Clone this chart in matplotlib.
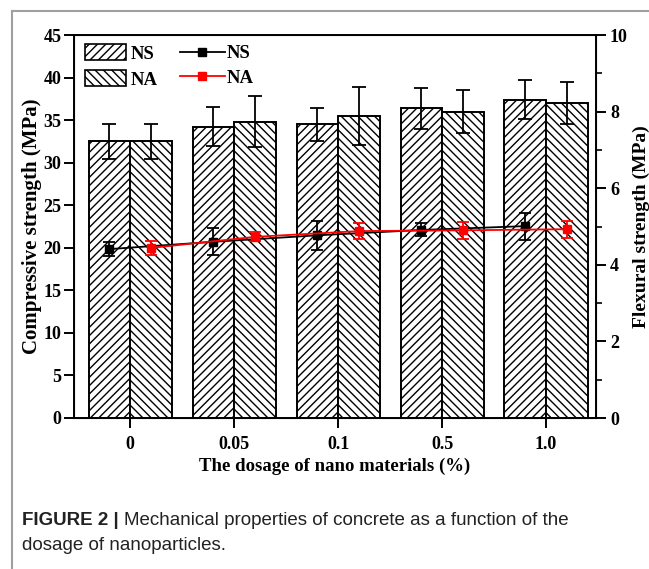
import matplotlib
matplotlib.use("Agg")
import matplotlib.pyplot as plt
import numpy as np
from matplotlib.patches import Patch
from matplotlib.lines import Line2D
from matplotlib.ticker import MultipleLocator

# ── data ──────────────────────────────────────────────────────────────────────
dosage = ["0", "0.05", "0.1", "0.5", "1.0"]

# compressive strength (MPa), bars
ns_comp     = [32.5, 34.2, 34.5, 36.4, 37.4]
ns_comp_err = [2.1, 2.3, 1.9, 2.4, 2.3]
na_comp     = [32.5, 34.8, 35.5, 36.0, 37.0]
na_comp_err = [2.1, 3.0, 3.4, 2.5, 2.5]

# flexural strength (MPa), lines
ns_flex     = [4.41, 4.60, 4.77, 4.91, 5.01]
ns_flex_err = [0.18, 0.35, 0.38, 0.17, 0.35]
na_flex     = [4.44, 4.73, 4.88, 4.90, 4.93]
na_flex_err = [0.18, 0.12, 0.20, 0.22, 0.22]

# ── style ─────────────────────────────────────────────────────────────────────
plt.rcParams["font.family"] = ["Liberation Serif", "DejaVu Serif"]
plt.rcParams["font.weight"] = "bold"
plt.rcParams["hatch.linewidth"] = 1.0
BAR_W = 0.4
FS_TICK = 13
FS_YLAB = 15
FS_XLAB = 13.5
FS_LEG = 13.5

fig = plt.figure(figsize=(6.49, 5.69), dpi=100)
ax = fig.add_axes([74 / 649, 1 - 418 / 569, 522 / 649, 383 / 569])

x = np.arange(len(dosage))
err_kw = dict(ecolor="black", elinewidth=1.3, capsize=5, capthick=1.3)
ax.bar(x - BAR_W / 2, ns_comp, BAR_W, yerr=ns_comp_err, color="white",
       edgecolor="black", linewidth=1.4, hatch="////", error_kw=err_kw)
ax.bar(x + BAR_W / 2, na_comp, BAR_W, yerr=na_comp_err, color="white",
       edgecolor="black", linewidth=1.4, hatch="\\\\\\\\", error_kw=err_kw)

ax.set_xlim(-0.54, 4.48)
ax.set_ylim(0, 45)
ax.set_xticks(x)
ax.set_xticklabels(dosage)
ax.yaxis.set_major_locator(MultipleLocator(5))
ax.tick_params(axis="both", direction="out", length=7, width=1.4,
               labelsize=FS_TICK, pad=2)
ax.tick_params(axis="x", pad=6)
for s in ax.spines.values():
    s.set_linewidth(1.4)
ax.set_ylabel("Compressive strength (MPa)", fontsize=FS_YLAB,
              fontweight="bold", labelpad=1)
ax.set_xlabel("The dosage of nano materials (%)", fontsize=FS_XLAB,
              fontweight="bold", labelpad=3)

# ── flexural strength on the right axis ───────────────────────────────────────
ax2 = ax.twinx()
ax2.errorbar(x - BAR_W / 2, ns_flex, yerr=ns_flex_err, color="black",
             marker="s", markersize=6, linewidth=1.3, elinewidth=1.3,
             capsize=4, capthick=1.3)
ax2.errorbar(x + BAR_W / 2, na_flex, yerr=na_flex_err, color="red",
             marker="s", markersize=6, linewidth=1.3, elinewidth=1.3,
             capsize=4, capthick=1.3)
ax2.set_ylim(0, 10)
ax2.yaxis.set_major_locator(MultipleLocator(2))
ax2.yaxis.set_minor_locator(MultipleLocator(1))
ax2.tick_params(axis="y", which="major", direction="out", length=7,
                width=1.4, labelsize=FS_TICK, pad=3)
ax2.tick_params(axis="y", which="minor", direction="out", length=4, width=1.2)
ax2.set_ylabel("Flexural strength (MPa)", fontsize=14, fontweight="bold")
ax2.yaxis.set_label_coords((633 - 74) / 522, 0.5)

# ── legends ───────────────────────────────────────────────────────────────────
bar_handles = [Patch(facecolor="white", edgecolor="black", hatch="////",
                     linewidth=1.2, label="NS"),
               Patch(facecolor="white", edgecolor="black", hatch="\\\\\\\\",
                     linewidth=1.2, label="NA")]
leg1 = ax2.legend(handles=bar_handles, loc="upper left",
                  bbox_to_anchor=(-0.012, 1.02), frameon=False,
                  handlelength=2.2, handleheight=0.95,
                  handletextpad=0.25, labelspacing=0.4,
                  prop=dict(weight="bold", size=FS_LEG))
ax2.add_artist(leg1)
line_handles = [Line2D([], [], color="black", marker="s", markersize=6,
                       linewidth=1.3, label="NS"),
                Line2D([], [], color="red", marker="s", markersize=6,
                       linewidth=1.3, label="NA")]
ax2.legend(handles=line_handles, loc="upper left",
           bbox_to_anchor=(0.17, 1.018), frameon=False, handlelength=2.4,
           handletextpad=0.1, labelspacing=0.4,
           prop=dict(weight="bold", size=FS_LEG))

# ── page frame and caption ────────────────────────────────────────────────────
fig.add_artist(Line2D([12 / 649, 12 / 649], [0, 1 - 11 / 569],
                      color="#a0a0a0", linewidth=1.5))
fig.add_artist(Line2D([12 / 649, 1], [1 - 11 / 569, 1 - 11 / 569],
                      color="#a0a0a0", linewidth=1.5))

cap_kw = dict(fontsize=13.5, color="#222222", va="baseline",
              family=["Liberation Sans", "DejaVu Sans"])
t1 = fig.text(22 / 649, 1 - 525 / 569, "FIGURE 2 | ", fontweight="bold", **cap_kw)
fig.canvas.draw()
bb = t1.get_window_extent(fig.canvas.get_renderer())
fig.text(bb.x1 / fig.bbox.width, 1 - 525 / 569,
         "Mechanical properties of concrete as a function of the",
         fontweight="normal", **cap_kw)
fig.text(22 / 649, 1 - 550 / 569, "dosage of nanoparticles.",
         fontweight="normal", **cap_kw)

fig.savefig("out.png", dpi=100)
